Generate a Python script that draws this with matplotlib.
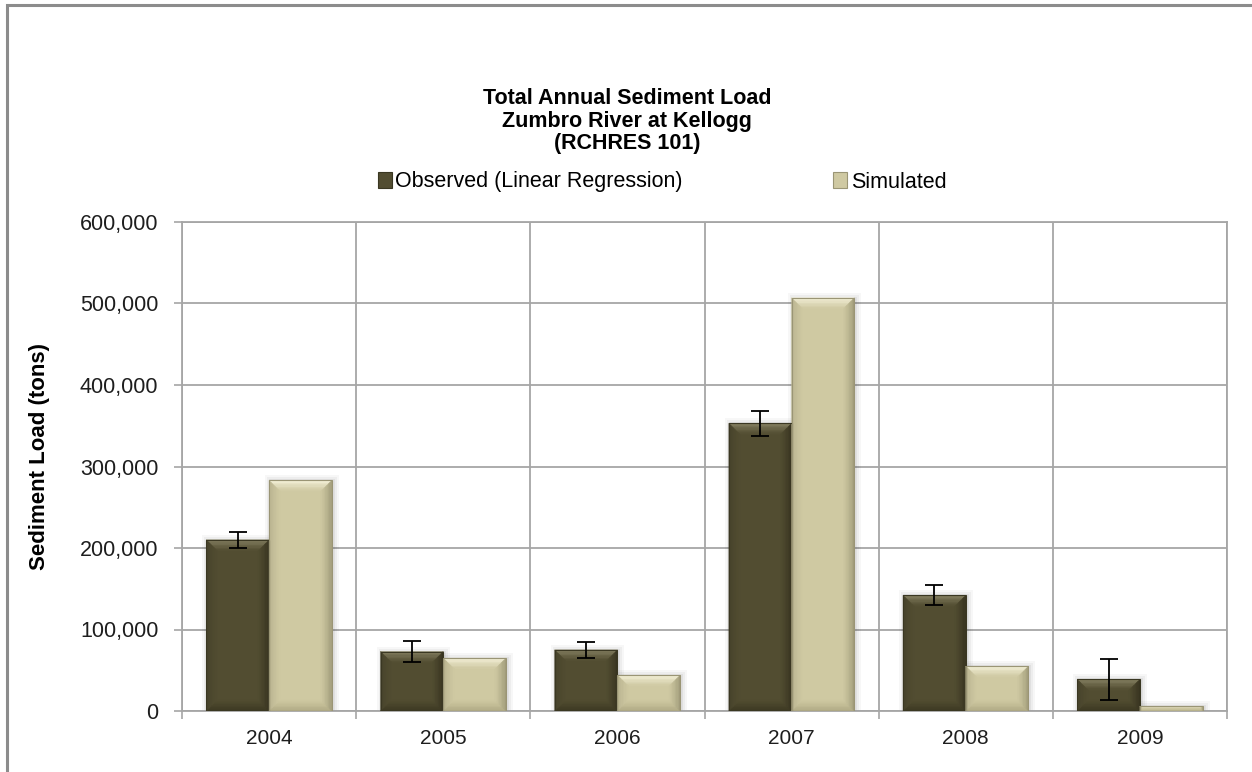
import matplotlib
matplotlib.use("Agg")
import matplotlib.pyplot as plt
from matplotlib.patches import Polygon, Rectangle
from matplotlib.ticker import FuncFormatter, FixedLocator
from matplotlib import font_manager
import numpy as np

# ---- data ----
years = ["2004", "2005", "2006", "2007", "2008", "2009"]
observed = [210000, 73000, 75000, 353000, 142000, 39000]
observed_err = [9500, 12500, 10000, 15000, 12500, 25000]
simulated = [283000, 65000, 44000, 507000, 55000, 6000]

series_names = ["Observed (Linear Regression)", "Simulated"]
title_lines = ["Total Annual Sediment Load", "Zumbro River at Kellogg", "(RCHRES 101)"]
y_label = "Sediment Load (tons)"
y_ticks = [0, 100000, 200000, 300000, 400000, 500000, 600000]

# ---- styling ----
installed = {f.name for f in font_manager.fontManager.ttflist}
NARROW = "Liberation Sans Narrow" if "Liberation Sans Narrow" in installed else "Liberation Sans"
REG = "Liberation Sans"

OBS = "#524D31"
SIM = "#CFC9A2"
GRID = "#A6A6A6"

W, H = 1252, 772
fig = plt.figure(figsize=(W / 100, H / 100), dpi=100)
fig.patch.set_facecolor("white")

ax = fig.add_axes([182 / W, 1 - 711 / H, (1227 - 182) / W, (711 - 222) / H])
ax.set_xlim(-0.5, len(years) - 0.5)
ax.set_ylim(0, 600000)

x = np.arange(len(years))
bw = 0.36

bars_obs = ax.bar(x - bw / 2, observed, bw, color=OBS, zorder=2, linewidth=0)
bars_sim = ax.bar(x + bw / 2, simulated, bw, color=SIM, zorder=2, linewidth=0)


def mix(c1, c2, t):
    a = np.array(matplotlib.colors.to_rgb(c1))
    b = np.array(matplotlib.colors.to_rgb(c2))
    return tuple(a * (1 - t) + b * t)


def bevel(rect, face, top, right, left, bottom, edge, size=11, steps=8):
    """Paint a soft bevel onto a bar rectangle, working in pixel space."""
    tr = ax.transData
    inv = tr.inverted()
    X0, Y0 = tr.transform((rect.get_x(), rect.get_y()))
    X1, Y1 = tr.transform((rect.get_x() + rect.get_width(), rect.get_y() + rect.get_height()))
    b = min(size, (Y1 - Y0) / 2, (X1 - X0) / 2)

    # soft drop shadow
    for k, a in enumerate([0.05, 0.04, 0.03]):
        g = 2 + 2 * k
        pts = [(X0 - g + 2, Y0), (X1 + g + 1, Y0), (X1 + g + 1, Y1 + g - 1), (X0 - g + 2, Y1 + g - 1)]
        ax.add_patch(Polygon(inv.transform(pts), closed=True, facecolor="black",
                             alpha=a, linewidth=0, zorder=1.5))

    for k in range(steps):
        o0 = b * k / steps
        o1 = b * (k + 1) / steps
        t = ((k + 0.5) / steps) ** 0.8
        sides = [
            ([(X0 + o0, Y1 - o0), (X1 - o0, Y1 - o0), (X1 - o1, Y1 - o1), (X0 + o1, Y1 - o1)], top),
            ([(X0 + o0, Y0 + o0), (X1 - o0, Y0 + o0), (X1 - o1, Y0 + o1), (X0 + o1, Y0 + o1)], bottom),
            ([(X0 + o0, Y0 + o0), (X0 + o0, Y1 - o0), (X0 + o1, Y1 - o1), (X0 + o1, Y0 + o1)], left),
            ([(X1 - o0, Y0 + o0), (X1 - o0, Y1 - o0), (X1 - o1, Y1 - o1), (X1 - o1, Y0 + o1)], right),
        ]
        for pts, col in sides:
            ax.add_patch(Polygon(inv.transform(pts), closed=True, facecolor=mix(col, face, t),
                                 edgecolor=mix(col, face, t), linewidth=0.3, zorder=3))
    ax.add_patch(Polygon(inv.transform([(X0, Y0), (X1, Y0), (X1, Y1), (X0, Y1)]), closed=True,
                         facecolor="none", edgecolor=edge, linewidth=0.8, zorder=4))


for r in bars_obs:
    bevel(r, OBS, top="#8E886A", right="#34301E", left="#45412A", bottom="#38341F", edge="#3A3722")
for r in bars_sim:
    bevel(r, SIM, top="#FBF8E2", right="#9C9776", left="#B7B18E", bottom="#ABA580", edge="#9A9575")

ax.errorbar(x - bw / 2, observed, yerr=observed_err, fmt="none", ecolor="black",
            elinewidth=1.3, capsize=6.5, capthick=1.3, zorder=6)

# ---- axes, grid, ticks ----
ax.set_axisbelow(True)
ax.yaxis.grid(True, color=GRID, linewidth=1.3)
ax.xaxis.set_minor_locator(FixedLocator(np.arange(-0.5, len(years), 1.0)))
ax.xaxis.grid(True, which="minor", color=GRID, linewidth=1.3)
for s in ax.spines.values():
    s.set_color(GRID)
    s.set_linewidth(1.3)

ax.set_yticks(y_ticks)
ax.yaxis.set_major_formatter(FuncFormatter(lambda v, p: f"{int(v):,}"))
ax.tick_params(axis="y", length=6, width=1.2, color=GRID, pad=11, labelsize=15.5,
               labelcolor="#1E1E1E")
ax.set_xticks(x)
ax.set_xticklabels(years)
ax.tick_params(axis="x", which="major", length=0, pad=13, labelsize=15, labelcolor="#1E1E1E")
ax.tick_params(axis="x", which="minor", length=6, width=1.2, color=GRID)
for lab in ax.get_xticklabels() + ax.get_yticklabels():
    lab.set_fontfamily(REG)

# ---- texts ----
for i, line in enumerate(title_lines):
    fig.text(627 / W, 1 - (98 + 23 * i) / H, line, ha="center", va="center",
             fontsize=15.5, fontweight="bold", family=NARROW)

fig.text(40 / W, 1 - 457 / H, y_label, rotation=90, ha="center", va="center",
         fontsize=16, fontweight="bold", family=NARROW)

handles = [Rectangle((0, 0), 1, 1, facecolor=OBS, edgecolor="#3A3722", linewidth=0.8),
           Rectangle((0, 0), 1, 1, facecolor=SIM, edgecolor="#9A9575", linewidth=0.8)]
leg = fig.legend(handles, series_names, loc="center left", bbox_to_anchor=(378 / W, 1 - 182 / H),
                 borderaxespad=0, borderpad=0,
                 ncol=2, frameon=False, handlelength=0.65, handleheight=0.8, handletextpad=0.15,
                 columnspacing=7.0, prop={"family": NARROW, "size": 15.5})

# outer chart frame
fig.add_artist(Rectangle((7 / W, -0.1), 1.2, (772 - 5) / H + 0.1, transform=fig.transFigure,
                         facecolor="none", edgecolor="#8C8C8C", linewidth=2.2))

fig.savefig("out.png", dpi=100, facecolor="white")
